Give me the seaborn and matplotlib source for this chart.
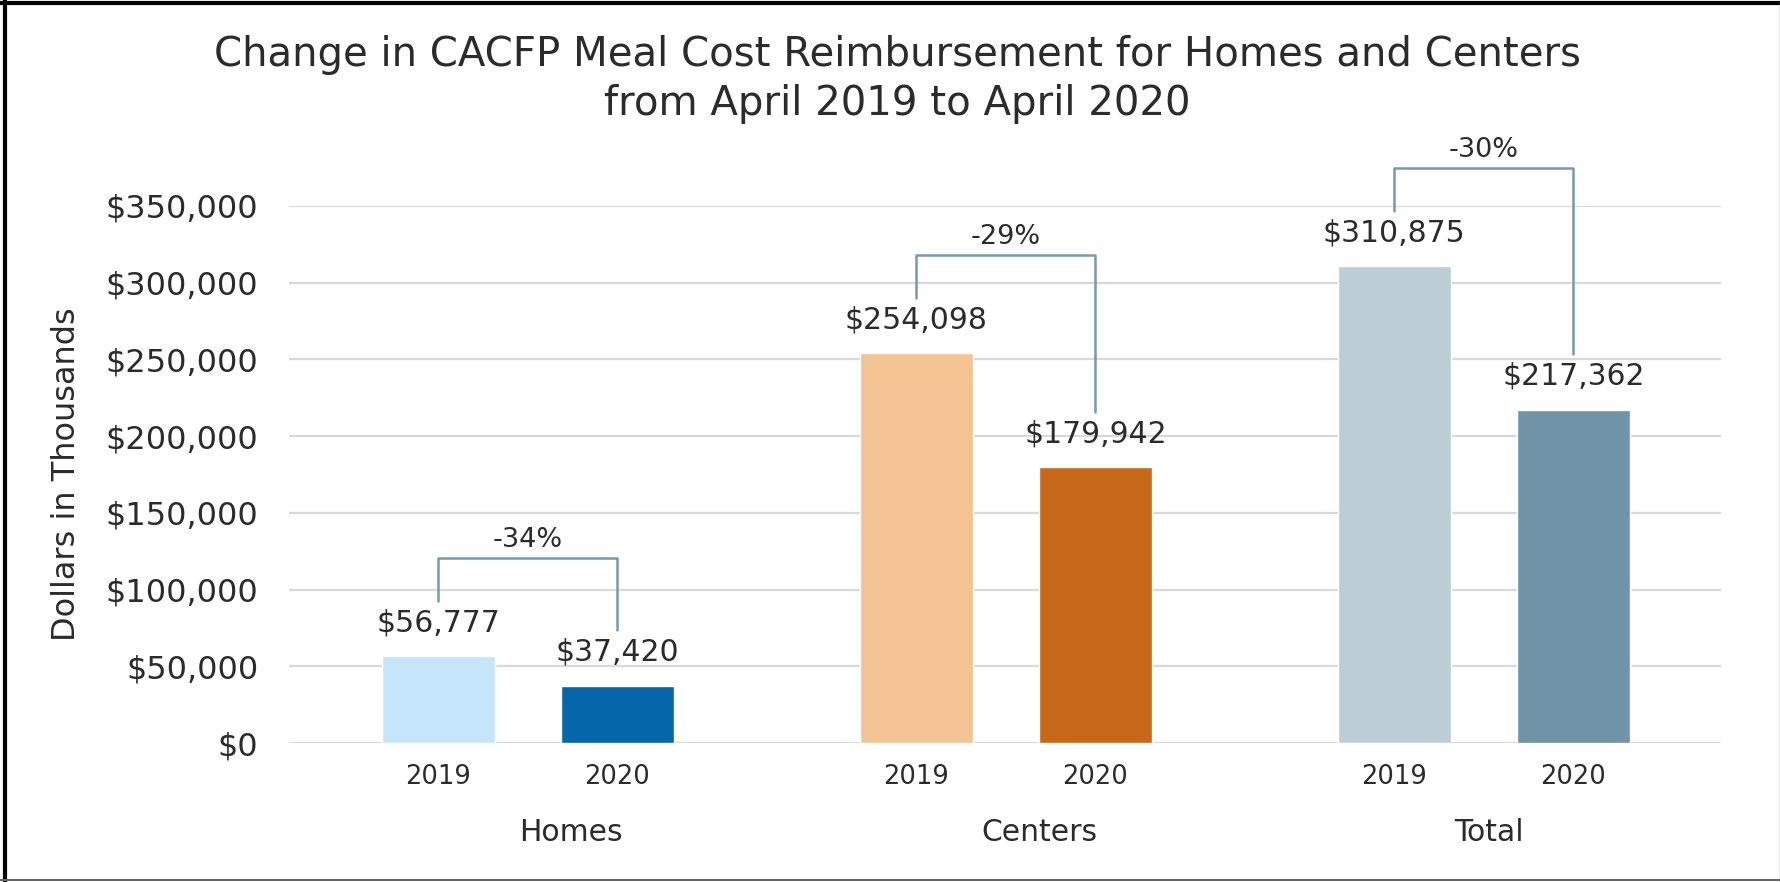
import matplotlib
matplotlib.use("Agg")
import matplotlib.pyplot as plt
import matplotlib.transforms as mtransforms
from matplotlib.lines import Line2D
import pandas as pd
import seaborn as sns

# data
groups = ["Homes", "Centers", "Total"]
years = ["2019", "2020"]
values_2019 = [56777, 254098, 310875]
values_2020 = [37420, 179942, 217362]
pct_change = ["-34%", "-29%", "-30%"]
bar_colors = ["#c5e5fb", "#0567aa", "#f3c393", "#c8691a", "#bccdd6", "#6f93a7"]
yticks = [0, 50000, 100000, 150000, 200000, 250000, 300000, 350000]

group_step = 2.67
rows = []
for gi, g in enumerate(groups):
    for yi, (yr, vals) in enumerate(zip(years, [values_2019, values_2020])):
        rows.append({"group": g, "year": yr, "value": vals[gi],
                     "pos": gi * group_step + yi, "key": g + yr})
df = pd.DataFrame(rows)

sns.set_theme(style="white")
plt.rcParams["font.family"] = ["DejaVu Sans"]
txt = "#2b2b2b"

fig = plt.figure(figsize=(17.81, 8.82), dpi=100)
ax = fig.add_axes([289 / 1781, 1 - 743 / 882, (1721 - 289) / 1781, (743 - 206) / 882])

sns.barplot(data=df, x="pos", y="value", hue="key", palette=bar_colors,
            native_scale=True, width=0.63, dodge=False, legend=False,
            saturation=1, ax=ax)

ax.set_ylim(0, 350000)
ax.set_xlim(-0.835, df["pos"].max() + 0.825)
ax.set_yticks(yticks)
ax.set_yticklabels([f"${v:,.0f}" for v in yticks], fontsize=23, color=txt)
ax.set_xticks(df["pos"])
ax.set_xticklabels(df["year"], fontsize=18.5, color=txt)
ax.tick_params(axis="y", length=0, pad=22)
ax.tick_params(axis="x", length=0, pad=15)
ax.grid(axis="y", color="#d9d9d9", linewidth=1.6)
ax.set_axisbelow(True)
for s in ax.spines.values():
    s.set_visible(False)
ax.set_xlabel("")
ax.set_ylabel("Dollars in Thousands", fontsize=23, color=txt, labelpad=17)

# value labels
for _, r in df.iterrows():
    ax.annotate(f"${r['value']:,.0f}", (r["pos"], r["value"]), xytext=(0, 24),
                textcoords="offset points", ha="center", va="center",
                fontsize=21.5, color=txt)

# group labels
trans = mtransforms.blended_transform_factory(ax.transData, ax.transAxes)
group_label_x = [0.74, 3.355, 5.87]
for gx, g in zip(group_label_x, groups):
    ax.text(gx, -0.166, g, transform=trans, ha="center", va="center",
            fontsize=21.5, color=txt)

# change brackets
bc = "#7499b0"
for gi in range(len(groups)):
    x0 = gi * group_step
    x1 = x0 + 1
    v0, v1 = values_2019[gi], values_2020[gi]
    top = max(v0, v1) + 64000
    ax.plot([x0, x0, x1, x1], [v0 + 36000, top, top, v1 + 36000],
            color=bc, linewidth=1.8, clip_on=False)
    ax.annotate(pct_change[gi], ((x0 + x1) / 2, top), xytext=(0, 13),
                textcoords="offset points", ha="center", va="center",
                fontsize=19.5, color=txt, annotation_clip=False)

fig.text(0.504, 1 - 55 / 882, "Change in CACFP Meal Cost Reimbursement for Homes and Centers",
         ha="center", va="center", fontsize=29, color=txt)
fig.text(0.504, 1 - 104 / 882, "from April 2019 to April 2020",
         ha="center", va="center", fontsize=29, color=txt)

# frame
fig.add_artist(Line2D([0.003, 0.003], [0, 1], transform=fig.transFigure, color="black", linewidth=3))
fig.add_artist(Line2D([0, 1], [0.997, 0.997], transform=fig.transFigure, color="black", linewidth=3))
fig.add_artist(Line2D([0.9995, 0.9995], [0, 1], transform=fig.transFigure, color="#999999", linewidth=1))
fig.add_artist(Line2D([0, 1], [0.002, 0.002], transform=fig.transFigure, color="#666666", linewidth=1.5))

fig.savefig("out.png", dpi=100)
